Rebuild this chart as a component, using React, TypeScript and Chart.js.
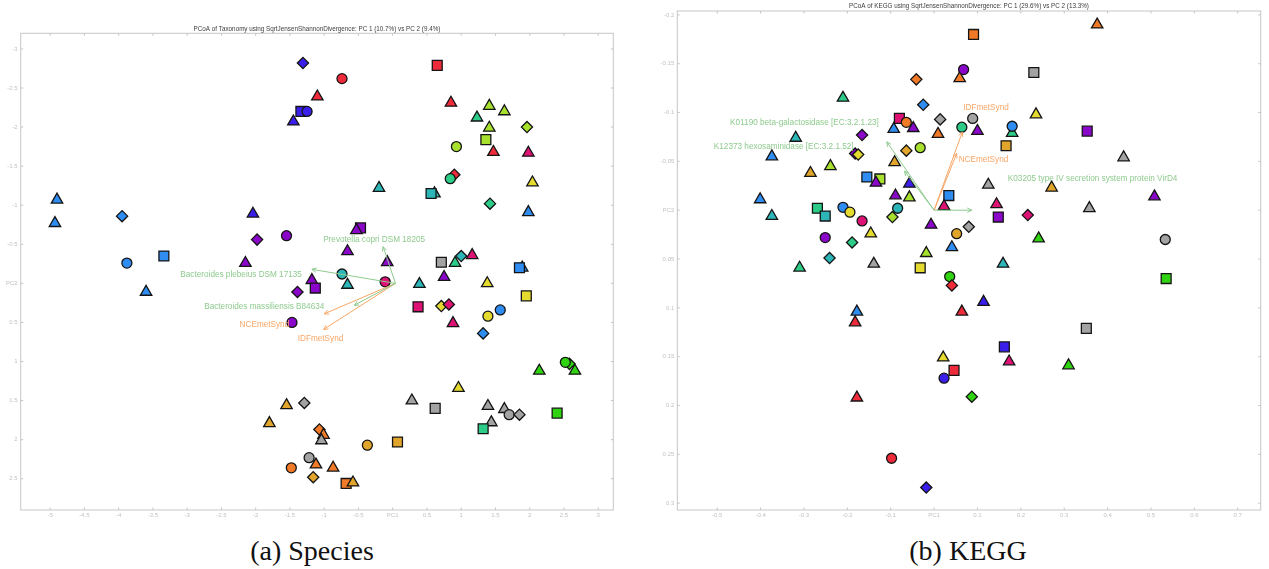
import React, { useEffect, useRef } from 'react';
import { Chart, registerables } from 'chart.js';

Chart.register(...registerables);

// ---------------- (a) Species ----------------
const speciesTitle = 'PCoA of Taxonomy using SqrtJensenShannonDivergence: PC 1 (10.7%) vs PC 2 (9.4%)';
const speciesX = [
  -1.31, -1.10, -1.34, -1.25, -1.45, -4.90, -4.93, -3.95, -2.04, -1.98,
  -1.55, -3.34, -3.88, -2.15, -3.60, -1.39, -1.18, -1.13, -1.47, -1.55,
  -1.29, -1.80, -1.22, -1.12, -1.48, -1.16, -1.07, -1.01, -1.04, -0.87,
  -0.68, -0.58, -0.37, 0.07, 0.28, 0.62, 0.96, 1.39, 1.44, 1.32,
  1.63, 1.70, 1.85, 2.40, 2.14, 2.58, 2.52, 2.66, 0.37, 0.71,
  0.82, 0.88, 1.39, 1.57, 1.32, 1.95, 1.38, 0.75, 0.39, -0.11,
  -0.66, -0.74, -0.74, 0.65, 0.85, 1.41, 1.63, 1.23, 1.41, 1.96,
  1.36, 0.93, 1.47, 1.98, 0.90, 0.84, 2.04, -0.20, 0.61, 0.56,
  1.42, 1.98, -0.47, -0.53, -0.66, -0.08, 0.71, 0.91, 1.00, 1.16,
  1.89, 1.85,
];
const speciesY = [
  -2.82, -2.39, -2.20, -2.20, -2.07, -1.07, -0.77, -0.86, -0.89, -0.56,
  -0.61, -0.35, -0.26, -0.26, 0.11, 0.11, -0.04, 0.06, 0.50, 1.56,
  1.53, 1.79, 2.23, 2.32, 2.36, 2.48, 1.87, 1.94, 2.01, 2.36,
  2.56, 2.55, 2.07, 2.03, 1.50, 1.60, 1.34, 1.57, 1.78, 1.86,
  1.61, 1.68, 1.68, 1.66, 1.12, 1.03, 1.01, 1.12, 0.30, 0.29,
  0.27, 0.51, 0.42, 0.34, 0.64, 0.16, 0.00, -0.08, 0.01, -0.02,
  0.02, -0.12, -2.62, -2.79, -2.31, -2.27, -2.20, -2.12, -1.99, -2.00,
  -1.84, -1.75, -1.68, -1.67, -1.39, -1.34, -1.29, -1.22, -1.15, -1.15,
  -1.02, -0.91, -0.71, -0.68, -0.41, -0.27, -0.27, -0.26, -0.35, -0.36,
  -0.20, -0.20,
];
const speciesShape = [
  'd', '^', 's', 'o', '^', '^', '^', 'd', '^', 'd',
  'o', 's', 'o', '^', '^', 'd', '^', 's', 'o', '^',
  'd', '^', 'o', '^', 'o', 'd', 'd', '^', '^', '^',
  's', '^', 'o', 's', '^', 's', '^', '^', '^', 's',
  '^', 'o', 'd', 's', '^', 'd', 'o', '^', 's', 'd',
  'd', '^', 'o', 'o', 'd', 's', '^', '^', '^', 'o',
  '^', 'o', 'o', 's', '^', '^', '^', '^', '^', 'd',
  's', 'o', '^', '^', 'd', 'o', '^', '^', '^', 's',
  'd', '^', 's', '^', '^', '^', 's', '^', 'd', '^',
  '^', 's',
];
const speciesGroup = [
  'indigo', 'red', 'indigo', 'indigo', 'indigo', 'sky', 'sky', 'sky', 'indigo', 'purple',
  'purple', 'sky', 'sky', 'purple', 'sky', 'purple', 'purple', 'purple', 'purple', 'gold',
  'gray', 'gold', 'gray', 'orange', 'orange', 'gold', 'orange', 'orange', 'gray', 'orange',
  'orange', 'gold', 'gold', 'gold', 'gray', 'gray', 'yellow', 'gray', 'gray', 'seagreen',
  'gray', 'gray', 'gray', 'green', 'green', 'green', 'green', 'green', 'magenta', 'yellow',
  'magenta', 'magenta', 'yellow', 'sky', 'sky', 'yellow', 'yellow', 'purple', 'teal', 'magenta',
  'teal', 'teal', 'red', 'red', 'red', 'lime', 'lime', 'seagreen', 'lime', 'lime',
  'lime', 'lime', 'red', 'magenta', 'red', 'seagreen', 'yellow', 'teal', 'teal', 'teal',
  'seagreen', 'sky', 'purple', 'purple', 'purple', 'purple', 'gray', 'seagreen', 'teal', 'magenta',
  'sky', 'sky',
];
const speciesXTicks = [-5, -4.5, -4, -3.5, -3, -2.5, -2, -1.5, -1, -0.5, 0, 0.5, 1, 1.5, 2, 2.5, 3];
const speciesYTicks = [-3, -2.5, -2, -1.5, -1, -0.5, 0, 0.5, 1, 1.5, 2, 2.5];
const speciesXRange = [-5.43, 3.22];
const speciesYRange = [-3.2, 2.9];
const speciesOrigin = [0.04, 0];
const speciesArrowNames = [
  'Prevotella copri DSM 18205',
  'Bacteroides plebeius DSM 17135',
  'Bacteroides massiliensis B84634',
  'NCEmetSynd',
  'IDFmetSynd',
];
const speciesArrowX = [-0.14, -1.18, -0.56, -1.0, -1.01];
const speciesArrowY = [-0.47, -0.18, 0.28, 0.39, 0.59];
const speciesArrowKind = ['taxon', 'taxon', 'taxon', 'meta', 'meta'];

// ---------------- (b) KEGG ----------------
const keggTitle = 'PCoA of KEGG using SqrtJensenShannonDivergence: PC 1 (29.6%) vs PC 2 (13.3%)';
const keggX = [
  -0.041, -0.025, -0.210, -0.080, -0.064, -0.048, -0.093, 0.014, 0.009, -0.319,
  -0.166, -0.032, -0.064, -0.182, -0.175, -0.374, -0.239, -0.285, -0.091, -0.155,
  -0.125, -0.134, -0.057, -0.089, -0.057, -0.401, -0.374, -0.269, -0.251, -0.210,
  -0.194, -0.166, -0.084, -0.096, 0.034, 0.023, -0.007, -0.251, -0.146, -0.189,
  -0.241, -0.310, -0.139, -0.032, -0.018, 0.041, 0.052, 0.036, 0.376, 0.091,
  0.059, 0.068, 0.230, 0.235, 0.089, 0.064, 0.100, 0.180, 0.180, 0.353,
  0.166, 0.437, 0.125, 0.271, 0.508, 0.144, 0.148, 0.216, 0.358, 0.080,
  0.241, 0.533, 0.159, 0.535, 0.041, -0.178, -0.182, 0.021, 0.023, 0.046,
  -0.178, -0.098, -0.018, 0.114, 0.064, 0.351, 0.162, 0.173, 0.310, 0.087,
];
const keggY = [
  -0.134, -0.108, -0.115, -0.094, -0.090, -0.084, -0.083, -0.093, -0.078, -0.074,
  -0.077, -0.064, -0.061, -0.058, -0.057, -0.055, -0.045, -0.038, -0.049, -0.034,
  -0.032, -0.028, -0.027, -0.015, -0.013, -0.011, 0.006, -0.002, 0.006, -0.003,
  0.002, 0.011, -0.002, 0.007, -0.015, -0.004, 0.015, 0.028, 0.024, 0.033,
  0.049, 0.059, 0.055, 0.059, 0.044, 0.038, 0.024, 0.068, -0.190, -0.180,
  -0.135, -0.144, -0.141, -0.098, -0.094, -0.085, -0.081, -0.079, -0.086, -0.081,
  -0.066, -0.054, -0.026, -0.023, -0.014, -0.006, 0.007, 0.005, -0.002, 0.017,
  0.029, 0.030, 0.055, 0.070, 0.077, 0.104, 0.115, 0.151, 0.172, 0.164,
  0.192, 0.254, 0.284, 0.094, 0.104, 0.121, 0.140, 0.155, 0.159, 0.191,
];
const keggShape = [
  'd', 'd', '^', 's', 'o', '^', '^', 'd', '^', '^',
  'd', 'o', 'd', 'd', 'd', '^', '^', '^', '^', 's',
  's', '^', '^', '^', '^', '^', '^', 's', 's', 'o',
  'o', 'o', 'o', 'd', 's', '^', '^', 'o', '^', 'd',
  'd', '^', '^', 's', '^', '^', 'o', 'o', '^', 's',
  '^', 'o', 's', '^', 'o', 'o', '^', '^', 'o', 's',
  's', '^', '^', '^', '^', '^', 's', 'd', '^', 'd',
  '^', 'o', '^', 's', 'd', '^', '^', '^', 'o', 's',
  '^', 'o', 'd', '^', '^', 's', 's', '^', '^', 'd',
];
const keggGroup = [
  'orange', 'sky', 'seagreen', 'magenta', 'orange', 'purple', 'sky', 'gray', 'orange', 'teal',
  'purple', 'lime', 'gold', 'purple', 'yellow', 'sky', 'lime', 'gold', 'gold', 'sky',
  'lime', 'purple', 'indigo', 'purple', 'lime', 'sky', 'teal', 'seagreen', 'teal', 'sky',
  'yellow', 'magenta', 'teal', 'lime', 'sky', 'magenta', 'purple', 'purple', 'yellow', 'seagreen',
  'teal', 'seagreen', 'gray', 'yellow', 'lime', 'sky', 'gold', 'green', 'orange', 'orange',
  'orange', 'purple', 'gray', 'yellow', 'gray', 'seagreen', 'purple', 'seagreen', 'sky', 'purple',
  'gold', 'gray', 'gray', 'gold', 'purple', 'magenta', 'purple', 'magenta', 'gray', 'gray',
  'green', 'gray', 'teal', 'green', 'red', 'sky', 'red', 'yellow', 'indigo', 'red',
  'red', 'red', 'indigo', 'indigo', 'red', 'gray', 'indigo', 'magenta', 'green', 'green',
];
const keggXTicks = [-0.5, -0.4, -0.3, -0.2, -0.1, 0, 0.1, 0.2, 0.3, 0.4, 0.5, 0.6, 0.7];
const keggYTicks = [-0.2, -0.15, -0.1, -0.05, 0, 0.05, 0.1, 0.15, 0.2, 0.25, 0.3];
const keggXRange = [-0.592, 0.753];
const keggYRange = [-0.204, 0.307];
const keggOrigin = [0, 0];
const keggArrowNames = [
  'K01190 beta-galactosidase [EC:3.2.1.23]',
  'K12373 hexosaminidase [EC:3.2.1.52]',
  'K03205 type IV secretion system protein VirD4',
  'IDFmetSynd',
  'NCEmetSynd',
];
const keggArrowX = [-0.109, -0.068, 0.087, 0.065, 0.052];
const keggArrowY = [-0.070, -0.040, 0.0, -0.080, -0.058];
const keggArrowKind = ['taxon', 'taxon', 'taxon', 'meta', 'meta'];

// ---------------- styles ----------------
const PALETTE: Record<string, string> = {
  red: '#EE2B3B',
  indigo: '#3A1FEB',
  sky: '#2F8CF0',
  purple: '#8A07C9',
  magenta: '#DE1275',
  teal: '#2CB6B8',
  seagreen: '#2DCB88',
  lime: '#A7E02D',
  green: '#30D30F',
  yellow: '#E5DB2F',
  gold: '#E0A52A',
  orange: '#F07A27',
  gray: '#A3A3A3',
};
const ARROW_COLOR: Record<string, string> = {
  taxon: 'rgb(142, 202, 142)',
  meta: 'rgb(248, 166, 102)',
};
const SHAPES: Record<string, { style: string; radius: number }> = {
  o: { style: 'circle', radius: 5 },
  '^': { style: 'triangle', radius: 6.6 },
  s: { style: 'rect', radius: 7 },
  d: { style: 'rectRot', radius: 5.6 },
};
const SANS = '"Liberation Sans", Arial, Helvetica, sans-serif';

type LabelPlace = { align: CanvasTextAlign; dx: number; dy: number };

const speciesLabelPlace: LabelPlace[] = [
  { align: 'center', dx: -9, dy: -7 },
  { align: 'right', dx: -10, dy: 5 },
  { align: 'right', dx: -30, dy: 1 },
  { align: 'right', dx: -35, dy: 11 },
  { align: 'center', dx: -3, dy: 9 },
];
const keggLabelPlace: LabelPlace[] = [
  { align: 'right', dx: -8, dy: -19 },
  { align: 'right', dx: -51, dy: -24 },
  { align: 'left', dx: 36, dy: -31 },
  { align: 'left', dx: 1, dy: -24 },
  { align: 'left', dx: 2, dy: 6 },
];

type PlotSpec = {
  title: string;
  xs: number[];
  ys: number[];
  shapes: string[];
  groups: string[];
  xTicks: number[];
  yTicks: number[];
  xRange: number[];
  yRange: number[];
  origin: number[];
  arrowNames: string[];
  arrowX: number[];
  arrowY: number[];
  arrowKind: string[];
  labelPlace: LabelPlace[];
  box: { left: number; top: number; width: number; height: number };
  padRight: number;
  padTop: number;
  titleGap: number;
  yAxisWidth: number;
  xAxisHeight: number;
};

const speciesSpec: PlotSpec = {
  title: speciesTitle,
  xs: speciesX,
  ys: speciesY,
  shapes: speciesShape,
  groups: speciesGroup,
  xTicks: speciesXTicks,
  yTicks: speciesYTicks,
  xRange: speciesXRange,
  yRange: speciesYRange,
  origin: speciesOrigin,
  arrowNames: speciesArrowNames,
  arrowX: speciesArrowX,
  arrowY: speciesArrowY,
  arrowKind: speciesArrowKind,
  labelPlace: speciesLabelPlace,
  box: { left: 0, top: 18, width: 625, height: 512 },
  padRight: 11.7,
  padTop: 15.3,
  titleGap: 4.3,
  yAxisWidth: 20.7,
  xAxisHeight: 20,
};

const keggSpec: PlotSpec = {
  title: keggTitle,
  xs: keggX,
  ys: keggY,
  shapes: keggShape,
  groups: keggGroup,
  xTicks: keggXTicks,
  yTicks: keggYTicks,
  xRange: keggXRange,
  yRange: keggYRange,
  origin: keggOrigin,
  arrowNames: keggArrowNames,
  arrowX: keggArrowX,
  arrowY: keggArrowY,
  arrowKind: keggArrowKind,
  labelPlace: keggLabelPlace,
  box: { left: 640, top: 0, width: 629, height: 530 },
  padRight: 1.5,
  padTop: 11,
  titleGap: 5,
  yAxisWidth: 37.3,
  xAxisHeight: 20,
};

function buildChart(canvas: HTMLCanvasElement, spec: PlotSpec) {
  const n = spec.arrowNames.length;
  const arrowDatasets = spec.arrowNames.map((name, i) => ({
    label: name,
    type: 'line' as const,
    showLine: true,
    data: [
      { x: spec.origin[0], y: spec.origin[1] },
      { x: spec.arrowX[i], y: spec.arrowY[i] },
    ],
    borderColor: ARROW_COLOR[spec.arrowKind[i]],
    borderWidth: 1,
    pointRadius: 0,
    fill: false,
    tension: 0,
  }));
  const pointDataset = {
    label: 'samples',
    data: spec.xs.map((x, i) => ({ x, y: spec.ys[i] })),
    pointStyle: spec.shapes.map((s) => SHAPES[s].style),
    pointRadius: spec.shapes.map((s) => SHAPES[s].radius),
    pointBackgroundColor: spec.groups.map((g) => PALETTE[g]),
    pointBorderColor: '#141414',
    pointBorderWidth: 1.3,
    showLine: false,
  };

  const decor = {
    id: 'decor',
    beforeDatasetsDraw(chart: any) {
      const { ctx, chartArea: a, scales } = chart;
      ctx.save();
      ctx.strokeStyle = '#c6c6c6';
      ctx.lineWidth = 1;
      ctx.strokeRect(a.left, a.top, a.right - a.left, a.bottom - a.top);
      ctx.beginPath();
      const tl = 2.5;
      scales.x.ticks.forEach((t: any) => {
        const p = scales.x.getPixelForValue(t.value);
        ctx.moveTo(p, a.top);
        ctx.lineTo(p, a.top + tl);
        ctx.moveTo(p, a.bottom);
        ctx.lineTo(p, a.bottom - tl);
      });
      scales.y.ticks.forEach((t: any) => {
        const p = scales.y.getPixelForValue(t.value);
        ctx.moveTo(a.right, p);
        ctx.lineTo(a.right - tl, p);
        ctx.moveTo(a.left, p);
        ctx.lineTo(a.left + tl, p);
      });
      ctx.stroke();
      // title, centred over the plotting area
      ctx.fillStyle = '#3c3c3c';
      ctx.font = `6.3px ${SANS}`;
      ctx.textAlign = 'center';
      ctx.textBaseline = 'middle';
      ctx.fillText(spec.title, (a.left + a.right) / 2, a.top - spec.titleGap);
      ctx.restore();
    },
    afterDatasetsDraw(chart: any) {
      const { ctx } = chart;
      ctx.save();
      for (let i = 0; i < n; i++) {
        const meta = chart.getDatasetMeta(i);
        const p0 = meta.data[0];
        const p1 = meta.data[1];
        const color = ARROW_COLOR[spec.arrowKind[i]];
        const ang = Math.atan2(p1.y - p0.y, p1.x - p0.x);
        const len = 5;
        const spread = 0.45;
        ctx.strokeStyle = color;
        ctx.lineWidth = 1;
        ctx.beginPath();
        ctx.moveTo(p1.x - len * Math.cos(ang - spread), p1.y - len * Math.sin(ang - spread));
        ctx.lineTo(p1.x, p1.y);
        ctx.lineTo(p1.x - len * Math.cos(ang + spread), p1.y - len * Math.sin(ang + spread));
        ctx.stroke();
        const lp = spec.labelPlace[i];
        ctx.fillStyle = color;
        ctx.font = `8.2px ${SANS}`;
        ctx.textAlign = lp.align;
        ctx.textBaseline = 'middle';
        ctx.fillText(spec.arrowNames[i], p1.x + lp.dx, p1.y + lp.dy);
      }
      ctx.restore();
    },
  };

  const tickFont = { family: SANS, size: 6 };
  return new Chart(canvas, {
    type: 'scatter',
    data: { datasets: [...arrowDatasets, pointDataset] as any },
    options: {
      responsive: false,
      animation: false,
      events: [],
      layout: { padding: { left: 0, right: spec.padRight, top: spec.padTop, bottom: 0 } },
      plugins: {
        legend: { display: false },
        tooltip: { enabled: false },
        title: { display: false },
      },
      scales: {
        x: {
          type: 'linear',
          min: spec.xRange[0],
          max: spec.xRange[1],
          grid: { display: false, drawTicks: false },
          border: { display: false },
          afterBuildTicks: (axis: any) => {
            axis.ticks = spec.xTicks.map((v) => ({ value: v }));
          },
          afterFit: (axis: any) => {
            axis.height = spec.xAxisHeight;
            axis.paddingLeft = 0;
            axis.paddingRight = 0;
          },
          ticks: {
            color: '#c2c2c2',
            font: tickFont,
            padding: 2,
            autoSkip: false,
            maxRotation: 0,
            callback: (v: any) => (v === 0 ? 'PC1' : String(v)),
          },
        },
        y: {
          type: 'linear',
          reverse: true,
          min: spec.yRange[0],
          max: spec.yRange[1],
          grid: { display: false, drawTicks: false },
          border: { display: false },
          afterBuildTicks: (axis: any) => {
            axis.ticks = spec.yTicks.map((v) => ({ value: v }));
          },
          afterFit: (axis: any) => {
            axis.width = spec.yAxisWidth;
            axis.paddingTop = 0;
            axis.paddingBottom = 0;
          },
          ticks: {
            color: '#c2c2c2',
            font: tickFont,
            padding: 3,
            autoSkip: false,
            callback: (v: any) => (v === 0 ? 'PC2' : String(v)),
          },
        },
      },
    } as any,
    plugins: [decor],
  });
}

function PlotCanvas({ spec }: { spec: PlotSpec }) {
  const ref = useRef<HTMLCanvasElement>(null);
  useEffect(() => {
    if (!ref.current) return;
    const chart = buildChart(ref.current, spec);
    return () => chart.destroy();
  }, [spec]);
  return (
    <canvas
      ref={ref}
      width={spec.box.width}
      height={spec.box.height}
      style={{
        position: 'absolute',
        left: spec.box.left,
        top: spec.box.top,
        width: spec.box.width,
        height: spec.box.height,
      }}
    />
  );
}

const captionStyle = (center: number): React.CSSProperties => ({
  position: 'absolute',
  left: center - 200,
  width: 400,
  top: 537,
  textAlign: 'center',
  fontFamily: '"Liberation Serif", "DejaVu Serif", serif',
  fontSize: 28,
  lineHeight: '28px',
  color: '#111',
  whiteSpace: 'nowrap',
});

export default function App() {
  return (
    <div
      style={{
        position: 'absolute',
        left: 0,
        top: 0,
        width: 1269,
        height: 569,
        background: '#ffffff',
        overflow: 'hidden',
      }}
    >
      <PlotCanvas spec={speciesSpec} />
      <PlotCanvas spec={keggSpec} />
      <div style={captionStyle(312)}>(a) Species</div>
      <div style={captionStyle(968)}>(b) KEGG</div>
    </div>
  );
}
